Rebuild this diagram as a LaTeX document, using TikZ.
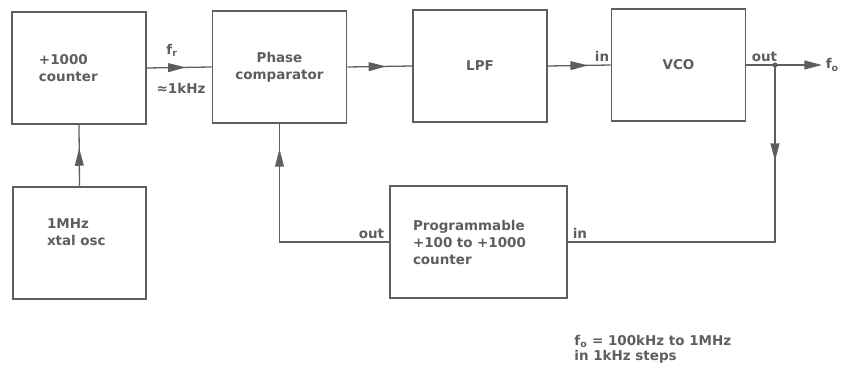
\documentclass[tikz,border=0pt]{standalone}
\usepackage{fontspec}
\setmainfont{DejaVu Sans}
\usetikzlibrary{arrows.meta,decorations.markings}

\definecolor{ink}{HTML}{5E5E5E}

\tikzset{
  blk/.style={draw=ink,line width=1.6pt,minimum width=40.2mm,minimum height=33.6mm,
    align=left,font=\bfseries\fontsize{11.5}{14.5}\selectfont,text=ink},
  conn/.style={draw=ink,line width=1.1pt},
  lbl/.style={font=\bfseries\fontsize{11.5}{14.5}\selectfont,text=ink,inner sep=1pt},
  flowtip/.tip={Triangle[length=15pt,width=7.5pt]},
  midarrow/.style={postaction={decorate},decoration={markings,
    mark=at position #1 with {\arrow{flowtip}}}}
}

\begin{document}
\begin{tikzpicture}[x=0.3mm,y=-0.3mm,color=ink]
\useasboundingbox (0,0) rectangle (850,365);

% top row
\node[blk,text width=24mm] (div) at (79,68) {+1000\\counter};
\node[blk,align=center] (pc) at (279.5,67) {Phase\\comparator};
\node[blk] (lpf) at (480,66) {LPF};
\node[blk] (vco) at (678.5,65) {VCO};

% bottom row
\node[blk,minimum width=39.9mm,text width=19.5mm] (xtal) at (79.5,243) {1MHz\\xtal osc\\\strut};
\node[blk,minimum width=53.1mm,text width=39.3mm] (prog) at (478.5,242) {Programmable\\+100 to +1000\\counter};

\coordinate (jn) at (775,65);
\coordinate (fo) at (822,65);

% forward path
\draw[conn,midarrow=0.6] (div.east) -- (pc.west);
\draw[conn,midarrow=0.6] (pc.east) -- (lpf.west);
\draw[conn,midarrow=0.64] (lpf.east) -- (vco.west);
\draw[conn] (vco.east) -- (jn);
\draw[conn,-flowtip] (jn) -- (fo);
\fill[ink] (jn) circle (2.6);

% feedback
\draw[conn,midarrow=0.25] (jn) |- (prog.east);
\draw[conn,midarrow=0.89] (prog.west) -| (pc.south);
\draw[conn,midarrow=0.62] (xtal.north) -- (div.south);

% labels
\node[lbl] (frl) at (172,50) {f\textsubscript{r}};
\node[lbl] (frv) at (181,88) {≈1kHz};
\node[lbl,anchor=south east] (vin) at ([yshift=2pt]vco.west) {in};
\node[lbl,anchor=south east] (vout) at ([xshift=3pt,yshift=2pt]jn) {out};
\node[lbl,anchor=west] (fol) at ([xshift=2pt]fo) {f\textsubscript{o}};
\node[lbl,anchor=south west] (pin) at ([xshift=3pt,yshift=2pt]prog.east) {in};
\node[lbl,anchor=south east] (pout) at ([xshift=-3pt,yshift=2pt]prog.west) {out};
\node[lbl,anchor=north west,align=left,font=\bfseries\fontsize{11.5}{12.5}\selectfont] (note) at (573,334)
  {f\textsubscript{o} = 100kHz to 1MHz\\in 1kHz steps};
\end{tikzpicture}
\end{document}
